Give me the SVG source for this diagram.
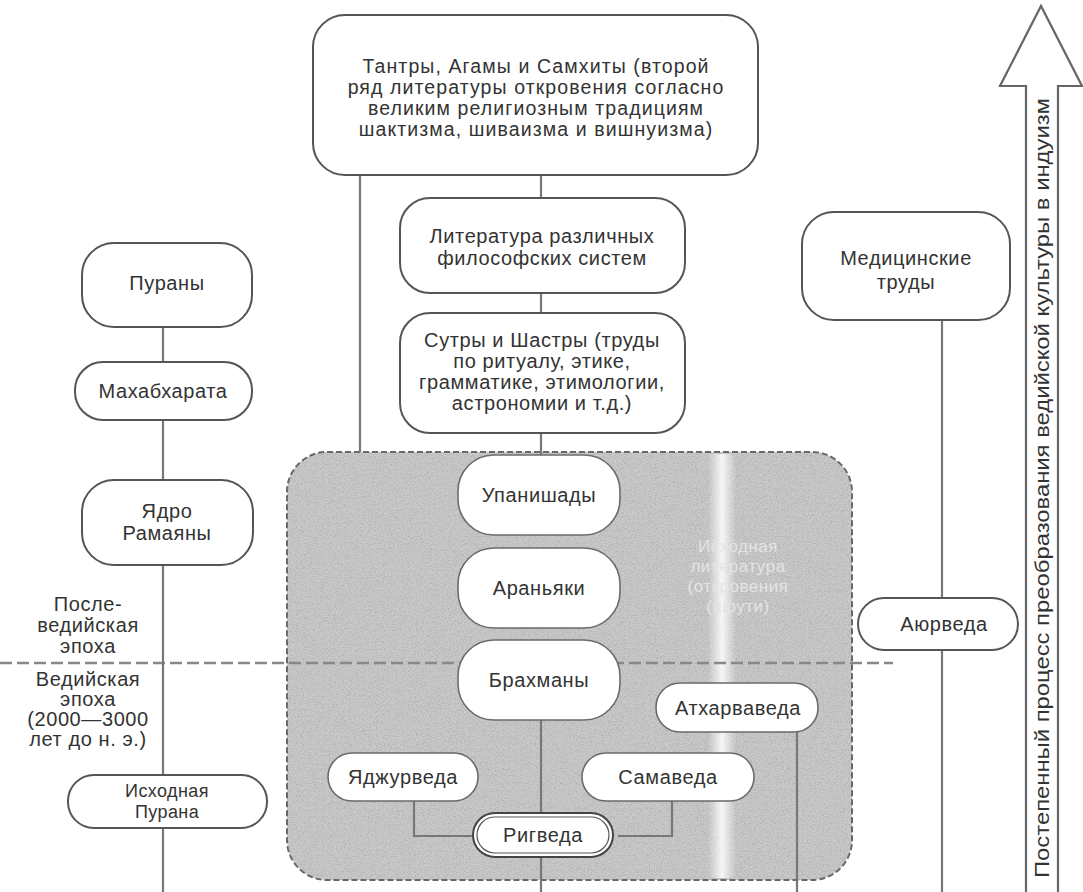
<svg xmlns="http://www.w3.org/2000/svg" width="1083" height="892" viewBox="0 0 1083 892">
<defs>
<filter id="grain" x="0" y="0" width="100%" height="100%">
<feTurbulence type="fractalNoise" baseFrequency="0.85" numOctaves="2" seed="7" result="n"/>
<feColorMatrix in="n" type="matrix" values="0 0 0 0 0.3  0 0 0 0 0.3  0 0 0 0 0.3  2.6 0 0 0 -1.15" result="d"/>
<feComposite in="d" in2="SourceAlpha" operator="in"/>
</filter>
<linearGradient id="streak" x1="0" y1="0" x2="1" y2="0">
<stop offset="0" stop-color="#fff" stop-opacity="0"/>
<stop offset="0.5" stop-color="#fff" stop-opacity="0.85"/>
<stop offset="1" stop-color="#fff" stop-opacity="0"/>
</linearGradient>
</defs>
<style>
text{font-family:"Liberation Sans",Arial,sans-serif;font-size:20px;fill:#333;text-anchor:middle;letter-spacing:0.6px}
.big{font-size:19.5px;letter-spacing:1.1px}
.sm{font-size:18px;letter-spacing:0.4px}
.box{fill:#fff;stroke:#555;stroke-width:2}
.pill{fill:#fff;stroke:#6a6a6a;stroke-width:1.6}
.ln{stroke:#777;stroke-width:2.2;fill:none}
.faint{fill:#e4e4e4;font-size:17px;letter-spacing:0.5px}
</style>
<rect width="1083" height="892" fill="#fff"/>

<g id="revelation-area">
<rect x="287" y="452" width="565" height="428" rx="40" fill="#c9c9c9" stroke="#666" stroke-width="2" stroke-dasharray="6 3"/>
<rect x="287" y="452" width="565" height="428" rx="40" fill="#000" filter="url(#grain)" opacity="0.55"/>
<rect x="708" y="454" width="28" height="424" fill="url(#streak)"/>
<text class="faint" x="738" y="552">Исходная</text>
<text class="faint" x="738" y="572">литература</text>
<text class="faint" x="738" y="592">(откровения</text>
<text class="faint" x="738" y="612">(шрути)</text>
</g>

<g id="era-divider">
<line x1="0" y1="663" x2="893" y2="663" stroke="#888" stroke-width="2.5" stroke-dasharray="12 5"/>
<text x="88" y="611">После-</text>
<text x="88" y="632">ведийская</text>
<text x="88" y="653">эпоха</text>
<text x="88" y="686">Ведийская</text>
<text x="88" y="706">эпоха</text>
<text x="88" y="726">(2000—3000</text>
<text x="88" y="746">лет до н. э.)</text>
</g>

<g id="connectors">
<line class="ln" x1="360" y1="175" x2="360" y2="452"/>
<line class="ln" x1="541" y1="175" x2="541" y2="198"/>
<line class="ln" x1="541" y1="293" x2="541" y2="313"/>
<line class="ln" x1="541" y1="433" x2="541" y2="455"/>
<line class="ln" x1="541" y1="720" x2="541" y2="813"/>
<line class="ln" x1="541" y1="857" x2="541" y2="892"/>
<polyline class="ln" points="414,801 414,836 473,836"/>
<polyline class="ln" points="672,801 672,836 618,836"/>
<line class="ln" x1="797" y1="731" x2="797" y2="892"/>
<line class="ln" x1="163" y1="327" x2="163" y2="892"/>
<line class="ln" x1="942" y1="320" x2="942" y2="892"/>
</g>

<g id="tantras">
<rect class="box" x="313" y="15" width="445" height="160" rx="32"/>
<text class="big" x="536" y="73">Тантры, Агамы и Самхиты (второй</text>
<text class="big" x="536" y="94">ряд литературы откровения согласно</text>
<text class="big" x="536" y="115">великим религиозным традициям</text>
<text class="big" x="536" y="136">шактизма, шиваизма и вишнуизма)</text>
</g>

<g id="philosophy">
<rect class="box" x="400" y="198" width="285" height="95" rx="30"/>
<text x="542" y="243">Литература различных</text>
<text x="542" y="265">философских систем</text>
</g>

<g id="sutras">
<rect class="box" x="400" y="313" width="285" height="120" rx="30"/>
<text x="542" y="347">Сутры и Шастры (труды</text>
<text x="542" y="368">по ритуалу, этике,</text>
<text x="542" y="389">грамматике, этимологии,</text>
<text x="542" y="410">астрономии и т.д.)</text>
</g>

<g id="upanishads">
<rect class="pill" x="458" y="455" width="162" height="80" rx="36"/>
<text x="539" y="502">Упанишады</text>
</g>
<g id="aranyakas">
<rect class="pill" x="458" y="548" width="162" height="80" rx="36"/>
<text x="539" y="595">Араньяки</text>
</g>
<g id="brahmanas">
<rect class="pill" x="458" y="640" width="162" height="80" rx="36"/>
<text x="539" y="687">Брахманы</text>
</g>
<g id="atharvaveda">
<rect class="pill" x="656" y="683" width="162" height="49" rx="24"/>
<text x="738" y="715">Атхарваведа</text>
</g>
<g id="yajurveda">
<rect class="pill" x="328" y="753" width="150" height="48" rx="24"/>
<text x="403" y="784">Яджурведа</text>
</g>
<g id="samaveda">
<rect class="pill" x="582" y="753" width="172" height="48" rx="24"/>
<text x="668" y="784">Самаведа</text>
</g>
<g id="rigveda">
<rect x="473" y="813" width="140" height="44" rx="22" fill="#fff" stroke="#444" stroke-width="2"/>
<rect x="477" y="817" width="132" height="36" rx="18" fill="none" stroke="#555" stroke-width="1.2"/>
<text x="543" y="842">Ригведа</text>
</g>

<g id="puranas">
<rect class="box" x="82" y="243" width="170" height="84" rx="32"/>
<text x="167" y="290">Пураны</text>
</g>
<g id="mahabharata">
<rect class="box" x="75" y="362" width="177" height="58" rx="28"/>
<text x="163" y="398">Махабхарата</text>
</g>
<g id="ramayana">
<rect class="box" x="82" y="480" width="171" height="85" rx="32"/>
<text x="167" y="518">Ядро</text>
<text x="167" y="540">Рамаяны</text>
</g>
<g id="original-purana">
<rect class="box" x="68" y="775" width="199" height="53" rx="26"/>
<text class="sm" x="167" y="797">Исходная</text>
<text class="sm" x="167" y="818">Пурана</text>
</g>

<g id="medical">
<rect class="box" x="802" y="212" width="208" height="108" rx="32"/>
<text x="906" y="265">Медицинские</text>
<text x="906" y="289">труды</text>
</g>
<g id="ayurveda">
<rect class="box" x="858" y="598" width="160" height="52" rx="26"/>
<text x="944" y="631">Аюрведа</text>
</g>

<g id="process-arrow">
<path d="M1026,892 L1026,86 L1000,86 L1041,6 L1082,86 L1058,86 L1058,892" fill="#fff" stroke="#666" stroke-width="2.2"/>
<text transform="translate(1049,878) rotate(-90)" style="text-anchor:start;font-size:20px;letter-spacing:0" textLength="780" lengthAdjust="spacingAndGlyphs">Постепенный процесс преобразования ведийской культуры в индуизм</text>
</g>
</svg>
